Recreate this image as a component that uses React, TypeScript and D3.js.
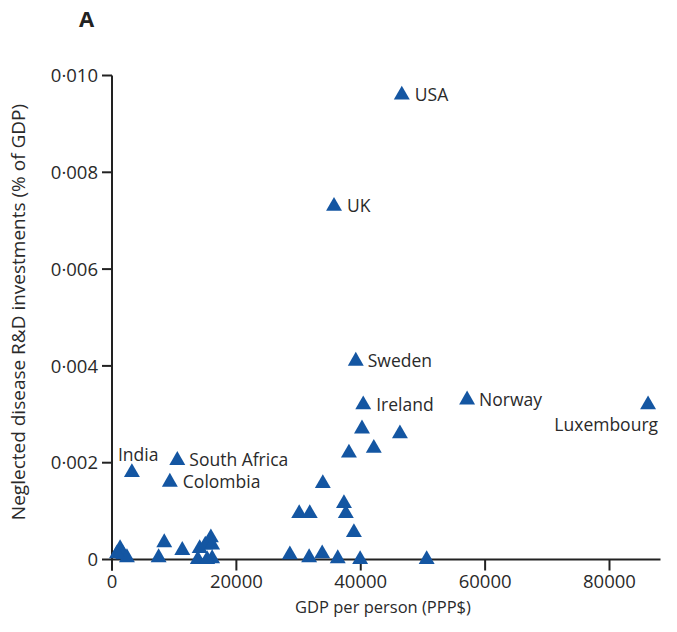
import React from 'react';
import * as d3 from 'd3';

// labelled countries
const names = ['USA', 'UK', 'Sweden', 'Ireland', 'Norway', 'Luxembourg', 'India', 'South Africa', 'Colombia'];
const namedGdp = [46600, 35700, 39200, 40400, 57100, 86200, 3200, 10500, 9300];
const namedRnd = [0.0096, 0.0073, 0.0041, 0.0032, 0.0033, 0.0032, 0.0018, 0.00205, 0.0016];

// unlabelled countries
const otherGdp = [
  1300, 1800, 2400, 800, 8400, 7500, 11300, 13800, 14100, 15000, 15900, 16100, 16100, 15300,
  28600, 30100, 31800, 31700, 33800, 33900, 36300, 37300, 37600, 38100, 38900, 39900,
  40200, 42100, 46300, 50600,
];
const otherRnd = [
  0.00023, 0.0001, 0.00004, 0.00012, 0.00035, 0.00004, 0.00019, 0, 0.00023, 0.0003, 0.00045, 0.0003, 0.00002, 0,
  0.0001, 0.00095, 0.00095, 0.00004, 0.00012, 0.00157, 0.00002, 0.00116, 0.00095, 0.0022, 0.00056, 0,
  0.0027, 0.0023, 0.0026, 0,
];

const xTicks = [0, 20000, 40000, 60000, 80000];
const yTicks = [0, 0.002, 0.004, 0.006, 0.008, 0.01];

// label placement relative to the marker
const labelPos: Record<string, { dx: number; dy: number; anchor: string }> = {
  USA: { dx: 13, dy: 6, anchor: 'start' },
  UK: { dx: 13, dy: 6, anchor: 'start' },
  Sweden: { dx: 12, dy: 6, anchor: 'start' },
  Ireland: { dx: 13, dy: 6, anchor: 'start' },
  Norway: { dx: 12, dy: 6, anchor: 'start' },
  Luxembourg: { dx: 10, dy: 26, anchor: 'end' },
  India: { dx: -14, dy: -11, anchor: 'start' },
  'South Africa': { dx: 12, dy: 6, anchor: 'start' },
  Colombia: { dx: 13, dy: 6, anchor: 'start' },
};

const App = () => {
  const width = 677;
  const height = 632;
  const font = '"Open Sans", "Noto Sans", sans-serif';
  const blue = '#1456a2';
  const axisColor = '#222';
  const textColor = '#2a2a2a';

  const xScale = d3.scaleLinear().domain([0, 80000]).range([112, 609.5]);
  const yScale = d3.scaleLinear().domain([0, 0.01]).range([559.5, 75.5]);
  const tri = d3.symbol().type(d3.symbolTriangle).size(110)() as string;
  const fmtY = (v: number) => (v === 0 ? '0' : d3.format('.3f')(v).replace('.', '·'));

  const x0 = xScale(0);
  const y0 = yScale(0);
  const xEnd = xScale(88200);

  return (
    <svg width={width} height={height} style={{ position: 'absolute', left: 0, top: 0 }}>
      <rect width={width} height={height} fill="#fff" />
      <text x={79} y={27} fontFamily={font} fontWeight="bold" fontSize={22} fill="#222">A</text>

      {/* y axis */}
      <line x1={x0} x2={x0} y1={yScale(0.01)} y2={y0 + 11} stroke={axisColor} strokeWidth={2} />
      {yTicks.map(t => (
        <g key={t}>
          <line x1={x0 - 10} x2={x0} y1={yScale(t)} y2={yScale(t)} stroke={axisColor} strokeWidth={2} />
          <text x={x0 - 14} y={yScale(t)} dy="0.36em" textAnchor="end" fontFamily={font} fontSize={18.5} fill={textColor}>
            {fmtY(t)}
          </text>
        </g>
      ))}

      {/* x axis */}
      <line x1={x0} x2={xEnd} y1={y0} y2={y0} stroke={axisColor} strokeWidth={2} />
      {xTicks.map(t => (
        <g key={t}>
          <line x1={xScale(t)} x2={xScale(t)} y1={y0} y2={y0 + 11} stroke={axisColor} strokeWidth={2} />
          <text x={xScale(t)} y={y0 + 28} textAnchor="middle" fontFamily={font} fontSize={18.5} fill={textColor}>
            {t}
          </text>
        </g>
      ))}

      <text x={383} y={613} textAnchor="middle" fontFamily={font} fontSize={16.5} fill={textColor}>
        GDP per person (PPP$)
      </text>
      <text
        transform={`translate(25, 312) rotate(-90)`}
        textAnchor="middle"
        fontFamily={font}
        fontSize={19}
        fill={textColor}
      >
        Neglected disease R&amp;D investments (% of GDP)
      </text>

      {/* points */}
      {otherGdp.map((g, i) => (
        <path key={'o' + i} d={tri} transform={`translate(${xScale(g)},${yScale(otherRnd[i])})`} fill={blue} />
      ))}
      {names.map((n, i) => {
        const px = xScale(namedGdp[i]);
        const py = yScale(namedRnd[i]);
        const lp = labelPos[n];
        return (
          <g key={n}>
            <path d={tri} transform={`translate(${px},${py})`} fill={blue} />
            <text x={px + lp.dx} y={py + lp.dy} textAnchor={lp.anchor} fontFamily={font} fontSize={17.5} fill={textColor}>
              {n}
            </text>
          </g>
        );
      })}
    </svg>
  );
};

export default App;
